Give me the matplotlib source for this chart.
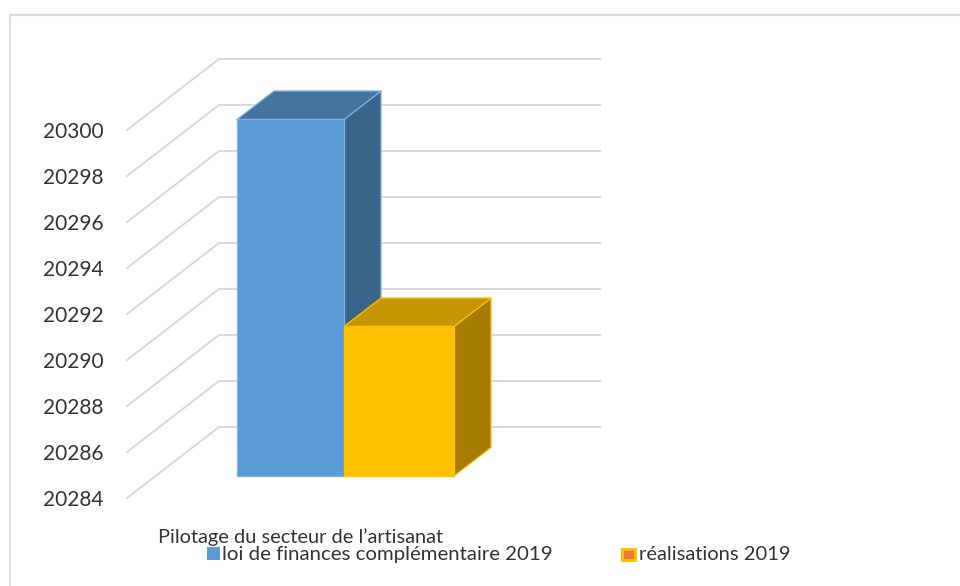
import matplotlib
matplotlib.use("Agg")
import matplotlib.pyplot as plt
from matplotlib.patches import Polygon, Rectangle
from matplotlib.lines import Line2D
from matplotlib.ticker import FuncFormatter
from matplotlib.transforms import ScaledTranslation

y_ticks = [20284, 20286, 20288, 20290, 20292, 20294, 20296, 20298, 20300]
series_names = ["loi de finances complémentaire 2019", "réalisations 2019"]
series_values = [20299.5, 20290.5]
category = "Pilotage du secteur de l’artisanat"

W, H = 960, 586
plt.rcParams["font.family"] = ["Lato", "DejaVu Sans"]
fig = plt.figure(figsize=(W / 100, H / 100), dpi=100, facecolor="white")

L, R, T, B = 127, 600, 130, 498
ax = fig.add_axes([L / W, 1 - B / H, (R - L) / W, (B - T) / H])
ax.set_xlim(0, R - L)
ax.set_ylim(y_ticks[0], y_ticks[-1])
ax.patch.set_alpha(0)
for s in ax.spines.values():
    s.set_visible(False)
ax.set_xticks([])
ax.set_yticks(y_ticks)
ax.tick_params(axis="y", length=0, pad=17, labelsize=15, labelcolor="#333333")
ax.yaxis.set_major_formatter(FuncFormatter(lambda v, _: f"{int(v)}"))
shift = ScaledTranslation(0, -0.5 / 100, fig.dpi_scale_trans)
for lab in ax.get_yticklabels():
    lab.set_transform(lab.get_transform() + shift)

units = (y_ticks[-1] - y_ticks[0]) / (B - T)  # value per pixel
wall_dx, wall_dy = 92, 71 * units
grid = "#D9D9D9"
for v in y_ticks:
    ax.add_line(Line2D([0, wall_dx, R - L], [v, v + wall_dy, v + wall_dy],
                       color=grid, lw=1.4, clip_on=False, zorder=1))

floor = 22 * units  # the bars stand part-way into the depth of the floor
base = y_ticks[0] + floor
depth_dx, depth_dy = 37, 28.5 * units
bars = [
    (110, 217, series_values[0], "#5B9BD5", "#44749F", "#3A6489", "#7FB0DF"),
    (217, 327, series_values[1], "#FFC000", "#C59600", "#A67C00", "#FFC000"),
]
for x0, x1, value, front, top, side, edge in bars:
    v = value + floor
    kw = dict(closed=True, clip_on=False, edgecolor=edge, lw=0.9, joinstyle="round")
    ax.add_patch(Polygon([(x1, base), (x1 + depth_dx, base + depth_dy),
                          (x1 + depth_dx, v + depth_dy), (x1, v)], facecolor=side, zorder=3, **kw))
    ax.add_patch(Polygon([(x0, v), (x0 + depth_dx, v + depth_dy),
                          (x1 + depth_dx, v + depth_dy), (x1, v)], facecolor=top, zorder=3, **kw))
    ax.add_patch(Rectangle((x0, base), x1 - x0, v - base, facecolor=front, zorder=4,
                           clip_on=False, edgecolor=edge, lw=0.9))

# Outer chart frame: only left and top edges fall inside the picture
def fx(p): return p / W
def fy(p): return 1 - p / H
fig.add_artist(Line2D([fx(10), fx(10), 1], [0, fy(15), fy(15)], transform=fig.transFigure,
                      color="#DDDDDD", lw=1.6))

fig.text(fx(158), fy(543), category, fontsize=14.4, color="#333333", va="baseline", ha="left")
fig.add_artist(Rectangle((fx(207), fy(560)), fx(12.5), fy(547) - fy(560), transform=fig.transFigure,
                         facecolor="#5B9BD5", edgecolor="none"))
fig.text(fx(222), fy(560), series_names[0], fontsize=14.7, color="#333333", va="baseline", ha="left")
fig.add_artist(Rectangle((fx(621.5), fy(559.5)), fx(13), fy(548.5) - fy(559.5), transform=fig.transFigure,
                         facecolor="#ED7D31", edgecolor="#FFC000", lw=2.1))
fig.text(fx(639), fy(560), series_names[1], fontsize=14.5, color="#333333", va="baseline", ha="left")

fig.savefig("out.png", dpi=100)
